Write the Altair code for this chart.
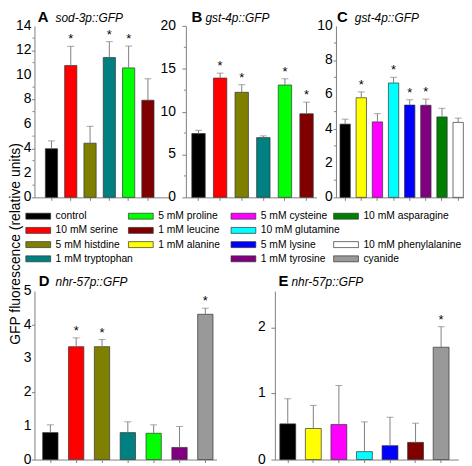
import altair as alt
import pandas as pd

FONT = "Liberation Sans"
GRAY = "#808080"

# ---------------- legend / colours ----------------
LEG_LABELS = ["control", "10 mM serine", "5 mM histdine", "1 mM tryptophan",
              "5 mM proline", "1 mM leucine", "1 mM alanine",
              "5 mM cysteine", "10 mM glutamine", "5 mM lysine", "1 mM tyrosine",
              "10 mM asparagine", "10 mM phenylalanine", "cyanide"]
LEG_COLORS = ["#000000", "#ff0000", "#808000", "#008080",
              "#00ff00", "#800000", "#ffff00",
              "#ff00ff", "#00ffff", "#0000ff", "#800080",
              "#008000", "#ffffff", "#999999"]
LEG_COL = [0, 0, 0, 0, 1, 1, 1, 2, 2, 2, 2, 3, 3, 3]
LEG_ROW = [0, 1, 2, 3, 0, 1, 2, 0, 1, 2, 3, 0, 2, 3]
COLOR = dict(zip(LEG_LABELS, LEG_COLORS))

YTITLE = ["GFP fluorescence (relative units)"]

# ---------------- panel data ----------------
A_cats = ["control", "10 mM serine", "5 mM histdine", "1 mM tryptophan", "5 mM proline", "1 mM leucine"]
A_vals = [3.97, 10.76, 4.42, 11.41, 10.57, 7.93]
A_errs = [0.64, 1.57, 1.38, 1.30, 1.78, 1.75]
A_star = [0, 1, 0, 1, 1, 0]
A_ticks = [0, 2, 4, 6, 8, 10, 12, 14]
A_minor = [1, 3, 5, 7, 9, 11, 13]

B_cats = ["control", "10 mM serine", "5 mM histdine", "1 mM tryptophan", "5 mM proline", "1 mM leucine"]
B_vals = [7.44, 13.91, 12.25, 6.97, 13.10, 9.75]
B_errs = [0.38, 0.58, 0.89, 0.20, 0.73, 1.35]
B_star = [0, 1, 1, 0, 1, 1]
B_ticks = [0, 5, 10, 15, 20]
B_minor = [2.5, 7.5, 12.5, 17.5]

C_cats = ["control", "1 mM alanine", "5 mM cysteine", "10 mM glutamine", "5 mM lysine",
          "1 mM tyrosine", "10 mM asparagine", "10 mM phenylalanine"]
C_vals = [4.27, 5.81, 4.40, 6.67, 5.38, 5.37, 4.69, 4.37]
C_errs = [0.29, 0.34, 0.48, 0.33, 0.31, 0.36, 0.50, 0.25]
C_star = [0, 1, 0, 1, 1, 1, 0, 0]
C_ticks = [0, 2, 4, 6, 8, 10]
C_minor = [1, 3, 5, 7, 9]

D_cats = ["control", "10 mM serine", "5 mM histdine", "1 mM tryptophan", "5 mM proline",
          "1 mM tyrosine", "cyanide"]
D_vals = [0.80, 3.35, 3.35, 0.80, 0.78, 0.36, 4.31]
D_errs = [0.23, 0.26, 0.21, 0.32, 0.25, 0.62, 0.18]
D_star = [0, 1, 1, 0, 0, 0, 1]
D_ticks = [0, 1, 2, 3, 4, 5]

E_cats = ["control", "1 mM alanine", "5 mM cysteine", "10 mM glutamine", "5 mM lysine",
          "1 mM leucine", "cyanide"]
E_vals = [0.54, 0.47, 0.53, 0.12, 0.21, 0.26, 1.70]
E_errs = [0.38, 0.35, 0.59, 0.45, 0.43, 0.29, 0.31]
E_star = [0, 0, 0, 0, 0, 0, 1]
E_ticks = [0, 1, 2]


def panel(cats, vals, errs, stars, ymax, ticks, minor, w, h, pi, po, al,
          tsize, lpad, letter, gene, lx, gx, ty):
    df = pd.DataFrame({
        "cond": cats,
        "val": vals,
        "top": [v + e for v, e in zip(vals, errs)],
        "star": ["*" if s else "" for s in stars],
        "color": [COLOR[c] for c in cats],
    })
    X = alt.X("cond:N", sort=cats, title=None,
              scale=alt.Scale(paddingInner=pi, paddingOuter=po, align=al),
              axis=alt.Axis(labels=False, ticks=True, tickSize=3, tickColor=GRAY,
                            domainColor=GRAY, title=None, grid=False))
    ys = alt.Scale(domain=[0, ymax], nice=False)
    yax = alt.Axis(values=ticks, labels=False, tickSize=tsize,
                   domainColor=GRAY, tickColor=GRAY, grid=False, title=None)
    base = alt.Chart(df)
    bars = base.mark_bar(stroke="#333333", strokeWidth=0.7).encode(
        x=X, y=alt.Y("val:Q", scale=ys, axis=yax, title=None),
        fill=alt.Fill("color:N", scale=None))
    err = base.mark_rule(color=GRAY, strokeWidth=1).encode(
        x=X, y=alt.Y("val:Q", title=None), y2="top:Q")
    cap = base.mark_tick(color=GRAY, size=7, thickness=1).encode(
        x=X, y=alt.Y("top:Q", title=None))
    st = base.mark_text(font=FONT, fontSize=13, baseline="alphabetic", dy=-3,
                        color="black").encode(
        x=X, y=alt.Y("top:Q", title=None), text="star:N")
    # tick labels of the value axis, placed by the same y scale
    lab = alt.Chart(pd.DataFrame({"v": ticks})).mark_text(
        font=FONT, fontSize=14, align="right", baseline="middle",
        color="black").encode(
        y=alt.Y("v:Q", title=None), x=alt.value(-(tsize + lpad)),
        text=alt.Text("v:Q", format="d"))
    lt = alt.Chart(pd.DataFrame({"t": [letter]})).mark_text(
        font=FONT, fontSize=15, fontWeight="bold", align="left",
        baseline="alphabetic", color="black").encode(
        x=alt.value(lx), y=alt.value(ty), text="t:N")
    gt = alt.Chart(pd.DataFrame({"t": [gene]})).mark_text(
        font=FONT, fontSize=12, fontStyle="italic", align="left",
        baseline="alphabetic", color="black").encode(
        x=alt.value(gx), y=alt.value(ty), text="t:N")
    layers = [bars, err, cap, st, lab, lt, gt]
    if minor:
        mt = alt.Chart(pd.DataFrame({"m": minor})).mark_rule(
            color=GRAY, strokeWidth=1).encode(
            y=alt.Y("m:Q", title=None), x=alt.value(-2), x2=alt.value(0))
        layers.append(mt)
    return alt.layer(*layers).properties(width=w, height=h)


A = panel(A_cats, A_vals, A_errs, A_star, 14, A_ticks, A_minor, 137.3, 173,
          0.368, 0.712, 0.397, 3, 0, "A", "sod-3p::GFP", 3.3, 21.3, -4)
B = panel(B_cats, B_vals, B_errs, B_star, 20, B_ticks, B_minor, 131.7, 173,
          0.38, 0.211, 0.652, 4, 6, "B", "gst-4p::GFP", 5.7, 19.7, -4)
C = panel(C_cats, C_vals, C_errs, C_star, 10, C_ticks, C_minor, 129, 173,
          0.36, 0.14, 0.89, 3, 0.3, "C", "gst-4p::GFP", 1, 19, -4)
D = panel(D_cats, D_vals, D_errs, D_star, 5, D_ticks, None, 183.6, 170,
          0.406, 0.226, 0.703, 3, 0, "D", "nhr-57p::GFP", 4.3, 21.3, -5)
E = panel(E_cats, E_vals, E_errs, E_star, 2.55, E_ticks, None, 185, 170,
          0.379, 0.277, 0.35, 4, 5.3, "E", "nhr-57p::GFP", 3.7, 16.7, -5)

# ---------------- legend ----------------
ldf = pd.DataFrame({"label": LEG_LABELS, "color": LEG_COLORS,
                    "col": LEG_COL, "row": LEG_ROW})
LX = alt.X("col:O", scale=alt.Scale(type="point", padding=0), axis=None)
LY = alt.Y("row:O", scale=alt.Scale(type="point", padding=0), axis=None)
sw = alt.Chart(ldf).mark_point(shape="M0,-0.24H2V0.24H0Z", size=625, filled=True,
                               opacity=1, stroke="#333333", strokeWidth=0.7,
                               xOffset=-8.7).encode(
    x=LX, y=LY, fill=alt.Fill("color:N", scale=None))
tx = alt.Chart(ldf).mark_text(font=FONT, fontSize=10.4, align="left",
                              baseline="middle", dx=21.3, color="black").encode(
    x=LX, y=LY, text="label:N")
legend = alt.layer(sw, tx).properties(width=310.5, height=43)

# ---------------- shared y title ----------------
ytitle = alt.Chart(pd.DataFrame({"t": YTITLE})).mark_text(
    font=FONT, fontSize=14, angle=270, align="center", baseline="middle",
    color="black").encode(x=alt.value(0), y=alt.value(220), text="t:N").properties(
    width=1, height=400)

top = alt.hconcat(alt.hconcat(A, B, spacing=-11.27), C, spacing=0.13)
bottom = alt.hconcat(D, E, spacing=40.51)
main = alt.vconcat(alt.vconcat(top, legend, spacing=7), bottom, spacing=9.5)
chart = alt.hconcat(ytitle, main, spacing=-8.3).properties(
    padding=0
).configure_view(stroke=None).configure_axis(grid=False)

chart.save("out.html", embed_options={"renderer": "svg", "actions": False})
